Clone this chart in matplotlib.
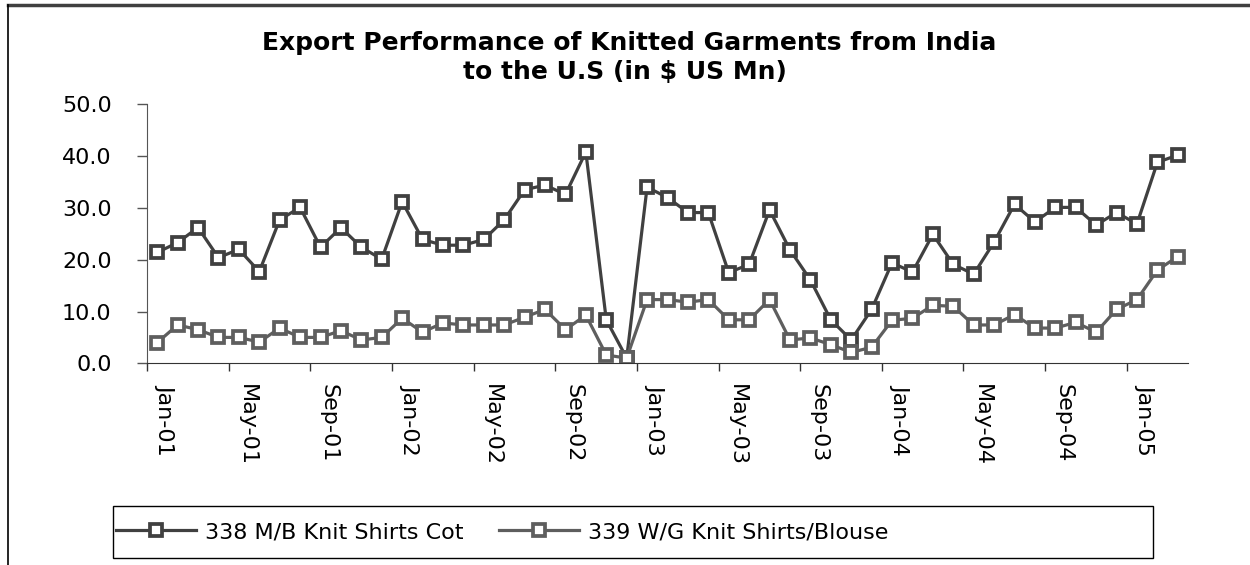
import matplotlib
matplotlib.use('Agg')
import matplotlib.pyplot as plt
import matplotlib.transforms as mtransforms
from matplotlib.lines import Line2D
from matplotlib.patches import Rectangle

plt.rcParams['font.family'] = ['DejaVu Sans']

# monthly values, Jan-01 .. Mar-05
shirts_338 = [21.4, 23.3, 26.2, 20.4, 22.0, 17.7, 27.7, 30.1, 22.4, 26.2, 22.4, 20.1,
              31.2, 23.9, 22.8, 22.8, 23.9, 27.7, 33.5, 34.4, 32.6, 40.8, 8.4, 1.0,
              34.0, 32.0, 29.1, 29.1, 17.5, 19.1, 29.6, 21.9, 16.1, 8.4, 4.5, 10.4,
              19.4, 17.6, 24.9, 19.1, 17.2, 23.4, 30.7, 27.3, 30.1, 30.1, 26.7, 29.1,
              26.9, 38.8, 40.2]
blouse_339 = [4.0, 7.4, 6.5, 5.0, 5.0, 4.1, 6.8, 5.0, 5.0, 6.3, 4.5, 5.0,
              8.7, 6.0, 7.8, 7.4, 7.4, 7.4, 8.9, 10.4, 6.5, 9.3, 1.6, 1.0,
              12.3, 12.3, 11.8, 12.3, 8.4, 8.4, 12.3, 4.5, 4.9, 3.6, 2.1, 3.1,
              8.3, 8.7, 11.2, 11.0, 7.4, 7.4, 9.4, 6.8, 6.8, 7.9, 6.0, 10.4,
              12.3, 18.0, 20.6]
tick_labels = ['Jan-01', 'May-01', 'Sep-01', 'Jan-02', 'May-02', 'Sep-02', 'Jan-03',
               'May-03', 'Sep-03', 'Jan-04', 'May-04', 'Sep-04', 'Jan-05']
series_names = ['338 M/B Knit Shirts Cot', '339 W/G Knit Shirts/Blouse']
y_ticks = [0, 10, 20, 30, 40, 50]

W, H = 1250, 565
fig = plt.figure(figsize=(12.5, 5.65), dpi=100)
ax = fig.add_axes([147 / W, 1 - 363.3 / H, (1188 - 147) / W, (363.3 - 104.3) / H])

x = list(range(len(shirts_338)))
l1, = ax.plot(x, shirts_338, color='#404040', lw=2.3, marker='s', ms=8,
              mfc='white', mec='#404040', mew=2.7, label=series_names[0])
l2, = ax.plot(x, blouse_339, color='#5e5e5e', lw=2.3, marker='s', ms=8,
              mfc='white', mec='#5e5e5e', mew=2.7, label=series_names[1])

ax.set_xlim(-0.5, len(x) - 0.5)
ax.set_ylim(0, 50)
ax.set_yticks(y_ticks)
ax.set_yticklabels([f'{v:.1f}' for v in y_ticks], fontsize=16)
ax.tick_params(axis='y', direction='out', length=7.5, width=1, color='#555555', pad=18)

# tick marks between categories, labels on every 4th month
ax.set_xticks([i - 0.5 for i in range(0, len(x), 4)], minor=True)
ax.set_xticks(list(range(0, len(x), 4)))
ax.set_xticklabels(tick_labels, rotation=-90, fontsize=16, va='top', ha='center')
ax.tick_params(axis='x', which='major', length=0, pad=15)
ax.tick_params(axis='x', which='minor', direction='out', length=5.5, width=1, color='#333333')
offset = mtransforms.ScaledTranslation(8 / 100, 0, fig.dpi_scale_trans)
for lab in ax.get_xticklabels():
    lab.set_transform(lab.get_transform() + offset)

for s in ['top', 'right']:
    ax.spines[s].set_visible(False)
ax.spines['left'].set_color('#555555')
ax.spines['bottom'].set_color('#333333')

fig.text(629 / W, 1 - 43 / H, 'Export Performance of Knitted Garments from India',
         ha='center', va='center', fontsize=18, fontweight='bold')
fig.text(625 / W, 1 - 72 / H, 'to the U.S (in $ US Mn)',
         ha='center', va='center', fontsize=18, fontweight='bold')

# legend box drawn separately so it keeps the reference size
fig.add_artist(Rectangle((113 / W, 1 - 558 / H), (1153 - 113) / W, 52 / H,
                         transform=fig.transFigure, fill=False, ec='black', lw=1))
leg = fig.legend(handles=[l1, l2], loc='center left', ncol=2,
                 bbox_to_anchor=(116 / W, 1 - 532 / H), frameon=False, fontsize=16,
                 handlelength=3.6, handletextpad=0.4, columnspacing=1.6,
                 borderaxespad=0, borderpad=0)

# outer chart border (top and left visible)
fig.add_artist(Line2D([8 / W, 1], [1 - 4.5 / H, 1 - 4.5 / H], color='#404040', lw=2.5))
fig.add_artist(Line2D([8 / W, 8 / W], [0, 1 - 4.5 / H], color='black', lw=1.2))

fig.savefig('out.png', dpi=100, facecolor='white')
